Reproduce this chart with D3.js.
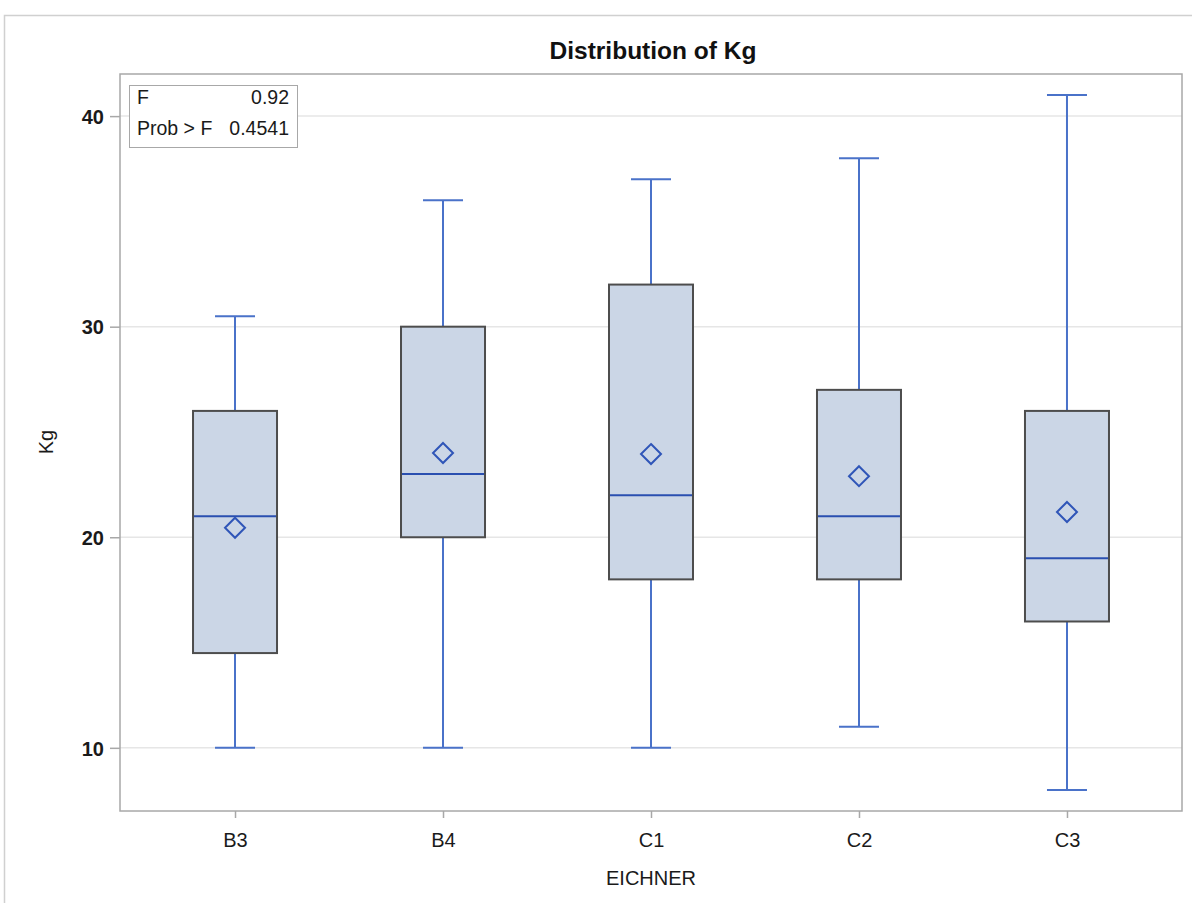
<!DOCTYPE html>
<html><head><meta charset="utf-8">
<script src="https://cdn.jsdelivr.net/npm/d3@7"></script>
<style>body{margin:0;background:#fff;} svg{display:block;}</style>
</head><body>
<script>
const categories = ["B3","B4","C1","C2","C3"];
const mins    = [10, 10, 10, 11, 8];
const q1s     = [14.5, 20, 18, 18, 16];
const medians = [21, 23, 22, 21, 19];
const q3s     = [26, 30, 32, 27, 26];
const maxs    = [30.5, 36, 37, 38, 41];
const means   = [20.45, 24.0, 23.95, 22.9, 21.2];
const yTicks  = [10, 20, 30, 40];
const statLabels = ["F", "Prob > F"];
const statValues = ["0.92", "0.4541"];

const W = 1192, H = 903;
const L = 120, R = 1182, T = 74, B = 811;
const svg = d3.select("body").append("svg").attr("width", W).attr("height", H);
const font = "'Liberation Sans', Arial, sans-serif";

// outer frame
svg.append("path").attr("d", `M4.5,${H} L4.5,15.5 L${W},15.5`).attr("fill","none").attr("stroke","#d0d0d0").attr("stroke-width",1.5);

const x = d3.scalePoint().domain(categories).range([L, R]).padding(0.553);
const y = d3.scaleLinear().domain([7, 42]).range([B, T]);

// gridlines
svg.append("g").selectAll("line").data(yTicks).join("line")
  .attr("x1", L).attr("x2", R).attr("y1", d=>y(d)).attr("y2", d=>y(d))
  .attr("stroke", "#e6e6e6").attr("stroke-width", 1.5);

// plot frame
svg.append("rect").attr("x", L).attr("y", T).attr("width", R-L).attr("height", B-T)
  .attr("fill","none").attr("stroke","#a8a8a8").attr("stroke-width",1.5);

// axes
const yAxis = svg.append("g").attr("transform", `translate(${L},0)`)
  .call(d3.axisLeft(y).tickValues(yTicks).tickSize(10).tickPadding(6));
yAxis.select(".domain").remove();
yAxis.selectAll(".tick line").attr("stroke","#a8a8a8").attr("stroke-width",1.5);
yAxis.selectAll(".tick text").attr("font-family", font).attr("font-size", 20).attr("font-weight","bold").attr("fill","#1a1a1a").attr("dy","0.36em");

const xAxis = svg.append("g").attr("transform", `translate(0,${B})`)
  .call(d3.axisBottom(x).tickSize(7).tickPadding(15));
xAxis.select(".domain").remove();
xAxis.selectAll(".tick line").attr("stroke","#a8a8a8").attr("stroke-width",1.5);
xAxis.selectAll(".tick text").attr("font-family", font).attr("font-size", 20).attr("fill","#1a1a1a");

const boxW = 84, capW = 40;
const data = categories.map((c,i)=>({c, min:mins[i], q1:q1s[i], med:medians[i], q3:q3s[i], max:maxs[i], mean:means[i]}));
const g = svg.append("g");
const whiskerColor = "#4a72c9";
data.forEach(d=>{
  const cx = x(d.c);
  g.append("line").attr("x1",cx).attr("x2",cx).attr("y1",y(d.q3)).attr("y2",y(d.max)).attr("stroke",whiskerColor).attr("stroke-width",2);
  g.append("line").attr("x1",cx).attr("x2",cx).attr("y1",y(d.q1)).attr("y2",y(d.min)).attr("stroke",whiskerColor).attr("stroke-width",2);
  g.append("line").attr("x1",cx-capW/2).attr("x2",cx+capW/2).attr("y1",y(d.max)).attr("y2",y(d.max)).attr("stroke",whiskerColor).attr("stroke-width",2);
  g.append("line").attr("x1",cx-capW/2).attr("x2",cx+capW/2).attr("y1",y(d.min)).attr("y2",y(d.min)).attr("stroke",whiskerColor).attr("stroke-width",2);
  g.append("rect").attr("x",cx-boxW/2).attr("y",y(d.q3)).attr("width",boxW).attr("height",y(d.q1)-y(d.q3))
    .attr("fill","#cbd6e6").attr("stroke","#4d4d4d").attr("stroke-width",2);
  g.append("line").attr("x1",cx-boxW/2+1).attr("x2",cx+boxW/2-1).attr("y1",y(d.med)).attr("y2",y(d.med)).attr("stroke","#2a4fb0").attr("stroke-width",2);
  const my = y(d.mean), s = 10;
  g.append("path").attr("d",`M${cx},${my-s} L${cx+s},${my} L${cx},${my+s} L${cx-s},${my} Z`)
    .attr("fill","none").attr("stroke","#2f55b8").attr("stroke-width",2);
});

// title
svg.append("text").attr("x",653).attr("y",58.5).attr("text-anchor","middle")
  .attr("font-family",font).attr("font-weight","bold").attr("font-size",24).attr("fill","#111")
  .attr("textLength",207).attr("lengthAdjust","spacingAndGlyphs").text("Distribution of Kg");

// axis labels
svg.append("text").attr("x",651).attr("y",885).attr("text-anchor","middle")
  .attr("font-family",font).attr("font-size",20).attr("fill","#1a1a1a").text("EICHNER");
svg.append("text").attr("transform",`translate(53,442) rotate(-90)`).attr("text-anchor","middle")
  .attr("font-family",font).attr("font-size",20).attr("fill","#1a1a1a").text("Kg");

// stat inset
svg.append("rect").attr("x",129.5).attr("y",85.5).attr("width",168).attr("height",62)
  .attr("fill","#fff").attr("stroke","#a8a8a8").attr("stroke-width",1);
statLabels.forEach((lab,i)=>{
  svg.append("text").attr("x",137).attr("y",104+i*31).attr("font-family",font).attr("font-size",19.5).attr("fill","#1a1a1a").text(lab);
  svg.append("text").attr("x",289).attr("y",104+i*31).attr("text-anchor","end").attr("font-family",font).attr("font-size",19.5).attr("fill","#1a1a1a").text(statValues[i]);
});
</script>
</body></html>
